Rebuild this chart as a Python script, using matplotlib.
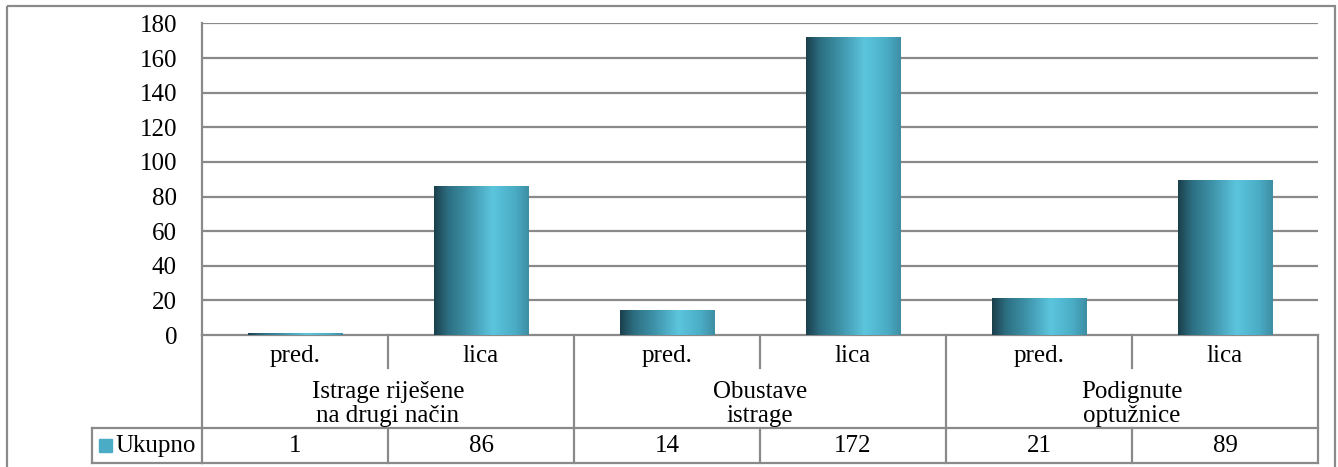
import matplotlib
matplotlib.use("Agg")
from matplotlib import pyplot as plt
from matplotlib import transforms
from matplotlib.colors import LinearSegmentedColormap
from matplotlib.patches import Rectangle
import numpy as np

# data
groups = ["Istrage riješene\nna drugi način", "Obustave\nistrage", "Podignute\noptužnice"]
sub_labels = ["pred.", "lica"]
values = [1, 86, 14, 172, 21, 89]
series_name = "Ukupno"
y_ticks = [0, 20, 40, 60, 80, 100, 120, 140, 160, 180]

plt.rcParams['font.family'] = ['Liberation Serif', 'DejaVu Serif']
FS = 18
GRAY = "#8a8a8a"

W, H = 1338, 467
fig = plt.figure(figsize=(W / 100, H / 100), dpi=100)

# overlay in pixel coords for the frame and data table
ov = fig.add_axes([0, 0, 1, 1], zorder=0)
ov.set_xlim(0, W)
ov.set_ylim(H, 0)
ov.axis("off")

left, right, top, bottom = 202, 1318, 23.5, 335
ax = fig.add_axes([left / W, 1 - bottom / H, (right - left) / W, (bottom - top) / H], zorder=1)
ax.set_facecolor("none")

cmap = LinearSegmentedColormap.from_list("bar", [
    (0.0, "#1b3f4b"), (0.15, "#2d6f82"), (0.35, "#3d91a7"),
    (0.62, "#5cc5de"), (0.85, "#4badc6"), (1.0, "#3d8ea4")])
grad = np.linspace(0, 1, 256).reshape(1, -1)

x = np.arange(len(values))
bw = 0.51
for xi, v in zip(x, values):
    ax.imshow(grad, cmap=cmap, aspect="auto", extent=[xi - bw / 2, xi + bw / 2, 0, v],
              origin="lower", zorder=3, interpolation="bilinear")

ax.set_xlim(-0.5, len(values) - 0.5)
ax.set_ylim(0, 180)
ax.set_yticks(y_ticks)
ax.set_yticklabels([str(t) for t in y_ticks], fontsize=FS)
ax.tick_params(axis="y", length=0, pad=18)
ax.set_xticks([])
for t in y_ticks[1:]:
    ax.axhline(t, color=GRAY, lw=1.6, zorder=1)
for s in ["top", "right"]:
    ax.spines[s].set_visible(False)
for s in ["left", "bottom"]:
    ax.spines[s].set_color(GRAY)
    ax.spines[s].set_linewidth(1.6)

# outer frame
ov.add_patch(Rectangle((7, 6), 1328, 470, fill=False, edgecolor=GRAY, lw=1.6))

# data table below the plot
trans = transforms.blended_transform_factory(ax.transData, ov.transData)
r1, r2, r3 = 368, 428, 463
x0, x1 = -0.5, len(values) - 0.5
lkw = dict(color=GRAY, lw=1.6, transform=trans, clip_on=False)
ov.plot([x0, x1], [r2, r2], **lkw)
ov.plot([x0, x1], [r3, r3], **lkw)
ov.plot([92, left], [r2, r2], color=GRAY, lw=1.6)
ov.plot([92, left], [r3, r3], color=GRAY, lw=1.6)
ov.plot([92, 92], [r2, r3], color=GRAY, lw=1.6)
for g in range(len(groups) + 1):
    xb = g * 2 - 0.5
    ov.plot([xb, xb], [bottom, r3], **lkw)
for g in range(len(groups)):
    xb = g * 2 + 0.5
    ov.plot([xb, xb], [bottom, r1], **lkw)
    ov.plot([xb, xb], [r2, r3], **lkw)

for i, v in enumerate(values):
    ov.text(i, 356, sub_labels[i % 2], ha="center", va="center", fontsize=FS, transform=trans)
    ov.text(i, 446, str(v), ha="center", va="center", fontsize=FS, transform=trans)
for g, name in enumerate(groups):
    ov.text(g * 2 + 0.5, 404, name, ha="center", va="center", fontsize=FS,
            transform=trans, linespacing=1.1)

ov.add_patch(Rectangle((99, 439), 13, 13, color="#4bacc6"))
ov.text(115, 446, series_name, ha="left", va="center", fontsize=FS)

fig.savefig("out.png", dpi=100)
